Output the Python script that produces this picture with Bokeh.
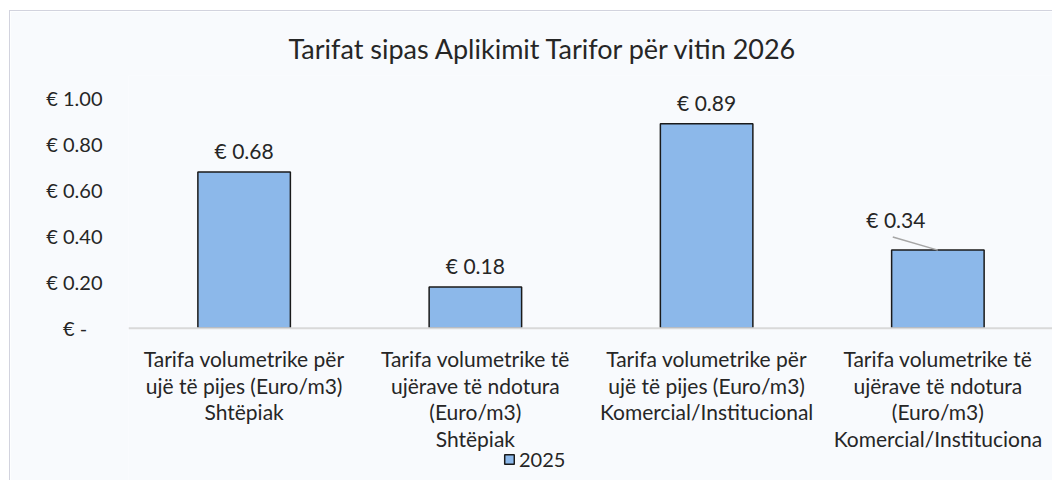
from bokeh.plotting import figure
from bokeh.models import (ColumnDataSource, FixedTicker, LabelSet, Legend, LegendItem, Range1d, Span)
from bokeh.core.properties import value
from bokeh.transform import dodge
from bokeh.embed import file_html
from bokeh.resources import INLINE

# ---- data ----
categories = [
    "Tarifa volumetrike për\nujë të pijes (Euro/m3)\nShtëpiak",
    "Tarifa volumetrike të\nujërave të ndotura\n(Euro/m3)\nShtëpiak",
    "Tarifa volumetrike për\nujë të pijes (Euro/m3)\nKomercial/Institucional",
    "Tarifa volumetrike të\nujërave të ndotura\n(Euro/m3)\nKomercial/Instituciona",
]
values_2025 = [0.68, 0.18, 0.89, 0.34]
series_name = "2025"
y_ticks = [0.0, 0.2, 0.4, 0.6, 0.8, 1.0]
y_tick_labels = ["€ -\u00a0\u00a0\u00a0", "€ 0.20", "€ 0.40", "€ 0.60", "€ 0.80", "€ 1.00"]
title_text = "Tarifat sipas Aplikimit Tarifor për vitin 2026"

FONT = "Lato"
TXT = "#262626"
BG = "#f8fafd"

label_text = ["€ %.2f" % v for v in values_2025]
# the last label sits up-left of its bar with a leader line
lbl_dx = [0, 0, 0, -42]
lbl_dy = [9, 9, 9, 18]

src = ColumnDataSource(dict(
    cat=categories, val=values_2025, txt=label_text,
    dx=lbl_dx, dy=lbl_dy, base=[0.0] * len(categories),
))

# frame extends below zero so the category texts and legend sit inside it
p = figure(
    width=1043, height=470,
    x_range=categories, y_range=Range1d(-0.667, 1.1),
    output_backend="svg", toolbar_location=None,
    min_border_left=118, min_border_right=0,
    min_border_top=64, min_border_bottom=0,
    background_fill_color=BG, border_fill_color=BG,
    margin=(10, 0, 0, 9),
    styles={"border-left": "1px solid #d2d3de", "border-top": "1px solid #d2d3de"},
)
p.outline_line_color = None
p.grid.visible = False
p.xaxis.visible = False

p.title.text = title_text
p.title.align = "left"
p.title.offset = 160
p.title.text_font = FONT
p.title.text_font_size = "27px"
p.title.text_font_style = "normal"
p.title.text_color = TXT
p.title.standoff = 22

# baseline
p.add_layout(Span(location=0, dimension="width", line_color="#d9d9d9", line_width=2))

bars = p.vbar(x="cat", top="val", bottom="base", width=0.4, source=src,
              fill_color="#8cb8ea", line_color="#1a1a1a", line_width=1.5)

# category texts below the baseline
p.text(x="cat", y="base", text="cat", source=src, y_offset=18,
       text_align="center", text_baseline="top",
       text_font=value(FONT), text_font_size=value("21px"),
       text_line_height=1.06, text_color=TXT)

# leader line for the offset label
lead = ColumnDataSource(dict(cat=[categories[3]], y0=[values_2025[3] + 0.057], y1=[values_2025[3]]))
p.segment(x0=dodge("cat", -0.195, range=p.x_range), y0="y0",
          x1="cat", y1="y1", source=lead, line_color="#a6a6a6", line_width=1.5)

labels = LabelSet(x="cat", y="val", text="txt", source=src,
                  x_offset="dx", y_offset="dy",
                  text_align="center", text_baseline="bottom",
                  text_font=value(FONT), text_font_size=value("21px"), text_color=TXT)
p.add_layout(labels)

# y axis
ya = p.yaxis[0]
ya.ticker = FixedTicker(ticks=y_ticks)
ya.major_label_overrides = {t: l for t, l in zip(y_ticks, y_tick_labels)}
ya.axis_line_color = None
ya.major_tick_line_color = None
ya.minor_tick_line_color = None
ya.major_label_standoff = 20
ya.major_label_text_font = FONT
ya.major_label_text_font_size = "20px"
ya.major_label_text_color = TXT

legend = Legend(items=[LegendItem(label=series_name, renderers=[bars])],
                location=(375, 10), orientation="horizontal",
                background_fill_alpha=0, border_line_color=None,
                padding=0, margin=0, glyph_width=12, glyph_height=12,
                label_standoff=4, label_text_font=FONT,
                label_text_font_size="20px", label_text_color=TXT)
p.add_layout(legend, "center")

open("out.html", "w").write(file_html(p, INLINE))
